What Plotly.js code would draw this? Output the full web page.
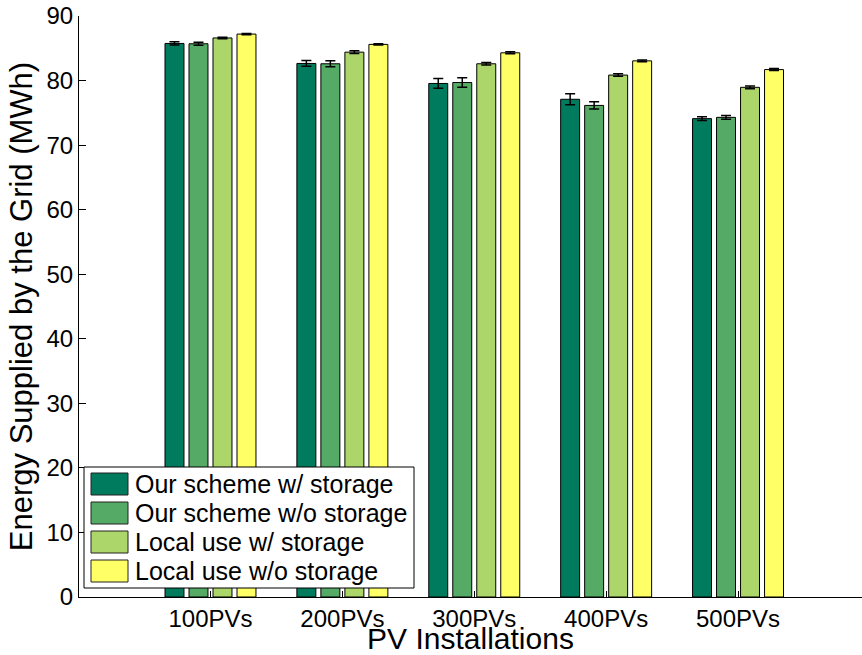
<!DOCTYPE html>
<html>
<head>
<meta charset="utf-8">
<script src="https://cdn.plot.ly/plotly-3.0.1.min.js"></script>
<style>
  html, body { margin: 0; padding: 0; background: #fff; }
  #chart { width: 862px; height: 655px; }
</style>
</head>
<body>
<div id="chart"></div>
<script>
// Categories (number of PV installations)
const categories = ['100PVs', '200PVs', '300PVs', '400PVs', '500PVs'];

// Series names and colours
const seriesNames = [
  'Our scheme w/ storage',
  'Our scheme w/o storage',
  'Local use w/ storage',
  'Local use w/o storage'
];
const seriesColors = ['#007b5e', '#55aa66', '#add66a', '#ffff66'];

// Energy supplied by the grid (MWh), one array per series
const ourWithStorage    = [85.75, 82.65, 79.55, 77.1, 74.1];
const ourWithoutStorage = [85.7, 82.6, 79.7, 76.15, 74.3];
const localWithStorage  = [86.6, 84.4, 82.6, 80.85, 78.95];
const localWithoutStorage = [87.2, 85.6, 84.3, 83.05, 81.7];

// Error bar half-widths (MWh)
const errOurWith     = [0.25, 0.45, 0.75, 0.85, 0.3];
const errOurWithout  = [0.25, 0.45, 0.75, 0.55, 0.3];
const errLocalWith   = [0.12, 0.2, 0.2, 0.2, 0.2];
const errLocalWithout = [0.1, 0.1, 0.15, 0.15, 0.15];

const seriesValues = [ourWithStorage, ourWithoutStorage, localWithStorage, localWithoutStorage];
const seriesErrors = [errOurWith, errOurWithout, errLocalWith, errLocalWithout];

const FONT = '"Liberation Sans", Arial, Helvetica, sans-serif';

const traces = seriesNames.map((name, i) => ({
  type: 'bar',
  name: name,
  x: categories.map((c, k) => k),
  y: seriesValues[i],
  marker: { color: seriesColors[i], line: { color: '#000', width: 1 } },
  error_y: { type: 'data', array: seriesErrors[i], visible: true,
             color: '#000', thickness: 1.5, width: 5 },
  showlegend: false
}));

// Plot area geometry (px) used to place the hand-drawn legend
const W = 862, H = 655;
const M = { l: 79, r: 0, t: 16, b: 58 };
const PW = W - M.l - M.r, PH = H - M.t - M.b;
const px = x => (x - M.l) / PW;
const py = y => (H - M.b - y) / PH;

// Legend box with large swatches
const legendBox = { x0: 84, y0: 467, x1: 414, y1: 588 };
const shapes = [{
  type: 'rect', xref: 'paper', yref: 'paper', layer: 'above',
  x0: px(legendBox.x0), x1: px(legendBox.x1),
  y0: py(legendBox.y1), y1: py(legendBox.y0),
  fillcolor: '#fff', line: { color: '#000', width: 1 }
}];
const annotations = [];
seriesNames.forEach((name, i) => {
  const cy = 484 + i * 29;
  shapes.push({
    type: 'rect', xref: 'paper', yref: 'paper', layer: 'above',
    x0: px(91), x1: px(128), y0: py(cy + 11), y1: py(cy - 11),
    fillcolor: seriesColors[i], line: { color: '#222', width: 1 }
  });
  annotations.push({
    xref: 'paper', yref: 'paper', x: px(133), y: py(cy),
    xanchor: 'left', yanchor: 'middle', showarrow: false,
    text: name, font: { family: FONT, size: 25, color: '#000' }
  });
});

const layout = {
  width: W, height: H,
  margin: M,
  paper_bgcolor: '#fff', plot_bgcolor: '#fff',
  barmode: 'group',
  bargap: 0.272,
  bargroupgap: 0.21,
  font: { family: FONT, color: '#000' },
  xaxis: {
    range: [-0.997, 4.94],
    tickmode: 'array',
    tickvals: categories.map((c, k) => k),
    ticktext: categories,
    ticks: 'inside', ticklen: 6, tickcolor: '#000', tickwidth: 1,
    showline: true, linecolor: '#000', linewidth: 1,
    showgrid: false, zeroline: false,
    tickfont: { family: FONT, size: 24, color: '#000' },
    title: { text: 'PV Installations', font: { family: FONT, size: 30, color: '#000' }, standoff: 10 }
  },
  yaxis: {
    range: [0, 90],
    dtick: 10,
    ticks: 'inside', ticklen: 7, tickcolor: '#000', tickwidth: 1,
    showline: true, linecolor: '#000', linewidth: 1,
    showgrid: false, zeroline: false,
    tickfont: { family: FONT, size: 24, color: '#000' },
    title: { text: 'Energy Supplied by the Grid (MWh)', font: { family: FONT, size: 31, color: '#000' }, standoff: 4 }
  },
  shapes: shapes,
  annotations: annotations
};

Plotly.newPlot('chart', traces, layout, { displayModeBar: false, staticPlot: true });
</script>
</body>
</html>
